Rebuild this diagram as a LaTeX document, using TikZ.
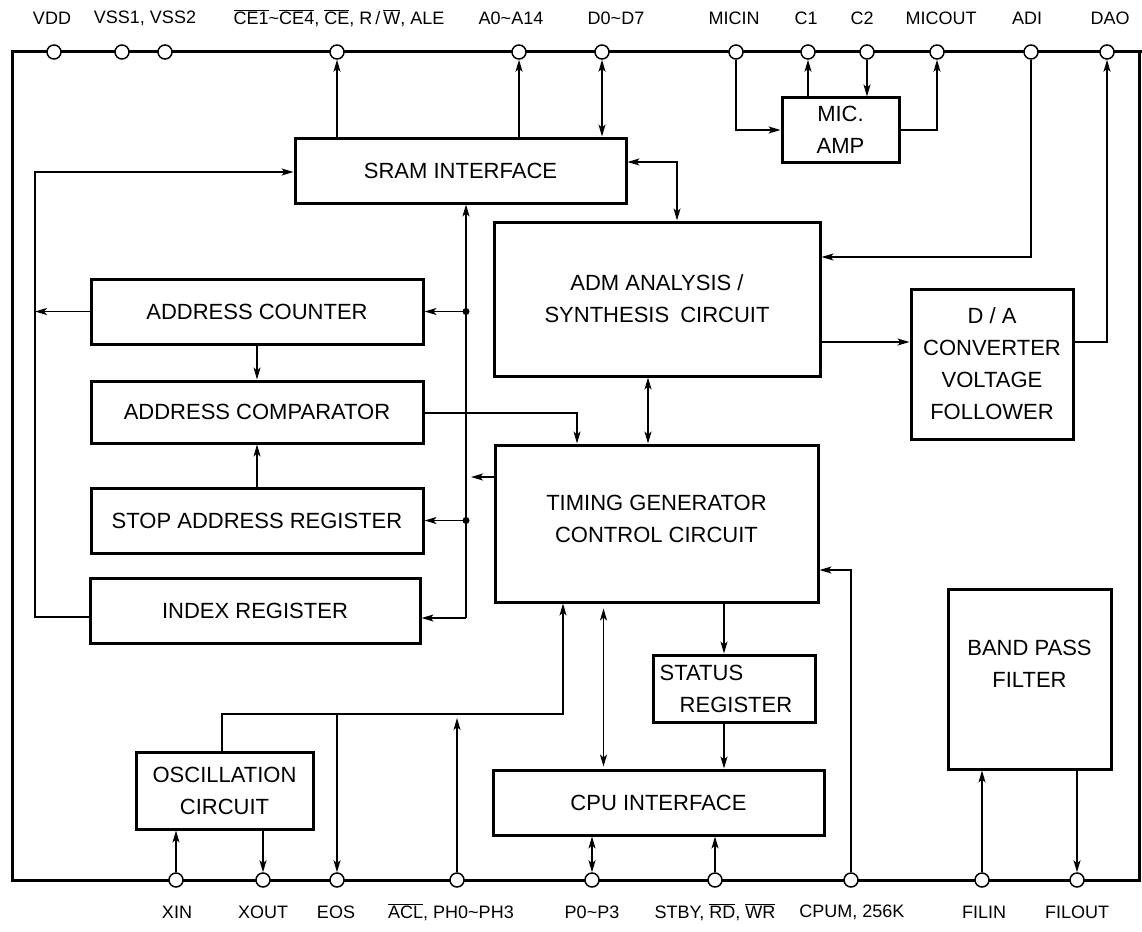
\documentclass[tikz,border=0pt]{standalone}
\usepackage{fontspec}
\setmainfont{Liberation Sans}
\usetikzlibrary{arrows.meta}
\newcommand{\ovl}[1]{$\overline{\hbox{#1}}$}
\tikzset{
  blk/.style={draw, line width=3pt, align=center, inner sep=0pt,
    font=\fontsize{22}{32}\selectfont},
  txt/.style={align=center, inner sep=0pt, font=\fontsize{22}{32}\selectfont},
  term/.style={circle, draw, fill=white, line width=1.5pt, minimum size=14pt, inner sep=0pt},
  lbl/.style={font=\fontsize{18}{20}\selectfont, inner sep=0pt},
  sig/.style={line width=1.6pt},
  arr/.style={sig, -{Stealth[length=12pt,width=7pt,inset=3pt]}},
  dbl/.style={sig, {Stealth[length=12pt,width=7pt,inset=3pt]}-{Stealth[length=12pt,width=7pt,inset=3pt]}},
  frame/.style={line width=3pt}
}
\begin{document}
\begin{tikzpicture}[x=1pt, y=-1pt]
\useasboundingbox (0,0) rectangle (1142,931);
% outer frame
\draw[frame] (12,52) rectangle (1139,880);
\draw[frame] (1139,52) -- (1142,52);

% blocks
\node[blk, minimum width=331pt, minimum height=65pt] (sram) at (460.5,170.5) {SRAM INTERFACE};
\node[blk, minimum width=117pt, minimum height=64pt] (mic) at (840.5,130) {MIC.\\AMP};
\node[blk, minimum width=326pt, minimum height=154pt] (adm) at (657,299) {ADM ANALYSIS /\\SYNTHESIS\enspace CIRCUIT};
\node[blk, minimum width=162pt, minimum height=150pt] (da) at (992,364) {D / A\\CONVERTER\\VOLTAGE\\FOLLOWER};
\node[blk, minimum width=332pt, minimum height=65pt] (ac) at (257,311.5) {ADDRESS COUNTER};
\node[blk, minimum width=332pt, minimum height=62pt] (acmp) at (257,412) {ADDRESS COMPARATOR};
\node[blk, minimum width=332pt, minimum height=65pt] (sar) at (257,520.5) {STOP ADDRESS REGISTER};
\node[blk, minimum width=330pt, minimum height=65pt] (ir) at (255,610.5) {INDEX REGISTER};
\node[blk, minimum width=323pt, minimum height=157pt] (tim) at (656.5,523.5) {};
\node[txt] (timtxt) at ([yshift=5pt]tim.center) {TIMING GENERATOR\\CONTROL CIRCUIT};
\node[blk, minimum width=162pt, minimum height=67pt] (stat) at (734,688.5) {};
\node[txt, align=left, anchor=west] (stattxt) at ([xshift=8pt]stat.west) {STATUS\\\hspace*{20pt}REGISTER};
\node[blk, minimum width=331pt, minimum height=65pt] (cpu) at (658.5,802.5) {CPU INTERFACE};
\node[blk, minimum width=177pt, minimum height=77pt] (osc) at (224.5,790.5) {OSCILLATION\\CIRCUIT};
\node[blk, minimum width=163pt, minimum height=180pt] (bpf) at (1029.5,679) {};
\node[txt] (bpftxt) at ([yshift=15pt]bpf.center) {BAND PASS\\FILTER};

% top terminals
\node[term] (vdd) at (54,52) {};
\node[term] (vss1) at (122,52) {};
\node[term] (vss2) at (165,52) {};
\node[term] (ce) at (337,52) {};
\node[term] (a0) at (519,52) {};
\node[term] (d0) at (602,52) {};
\node[term] (micin) at (736,52) {};
\node[term] (c1) at (808,52) {};
\node[term] (c2) at (867,52) {};
\node[term] (micout) at (937,52) {};
\node[term] (adi) at (1031,52) {};
\node[term] (dao) at (1107,52) {};
% bottom terminals
\node[term] (xin) at (176,880) {};
\node[term] (xout) at (263,880) {};
\node[term] (eos) at (337,880) {};
\node[term] (ph) at (457,880) {};
\node[term] (p0) at (592,880) {};
\node[term] (stby) at (715,880) {};
\node[term] (cpum) at (851,880) {};
\node[term] (filin) at (982,880) {};
\node[term] (filout) at (1077,880) {};

% terminal labels
\node[lbl] (l-vdd) at (52,18) {VDD};
\node[lbl] (l-vss) at (145,18) {VSS1, VSS2};
\node[lbl] (l-ce) at (339,18) {\ovl{CE1}\textasciitilde\ovl{CE4}, \ovl{CE}, R\,/\,\ovl{W}, ALE};
\node[lbl] (l-a0) at (511,18) {A0\textasciitilde A14};
\node[lbl] (l-d0) at (616,18) {D0\textasciitilde D7};
\node[lbl] (l-micin) at (734,18) {MICIN};
\node[lbl] (l-c1) at (806,18) {C1};
\node[lbl] (l-c2) at (862,18) {C2};
\node[lbl] (l-micout) at (941,18) {MICOUT};
\node[lbl] (l-adi) at (1027,18) {ADI};
\node[lbl] (l-dao) at (1110,18) {DAO};
\node[lbl] (l-xin) at (177,912) {XIN};
\node[lbl] (l-xout) at (263,912) {XOUT};
\node[lbl] (l-eos) at (336,912) {EOS};
\node[lbl] (l-ph) at (451,912) {\ovl{ACL}, PH0\textasciitilde PH3};
\node[lbl] (l-p0) at (592,912) {P0\textasciitilde P3};
\node[lbl] (l-stby) at (715,912) {STBY, \ovl{RD}, \ovl{WR}};
\node[lbl] (l-cpum) at (852,912) {CPUM,\ 256K};
\node[lbl] (l-filin) at (984,912) {FILIN};
\node[lbl] (l-filout) at (1077,912) {FILOUT};

% corner points
\coordinate (lb) at (35,172);
\coordinate (irl) at (35,617);
\coordinate (bus) at (466,618);
\coordinate (tb) at (471,477);
\coordinate (cm) at (577,413);
\coordinate (sa) at (677,162);
\coordinate (ad) at (1031,257);
\coordinate (dd) at (1107,342);
\coordinate (ot) at (222,714);
\coordinate (oe) at (563,714);
\coordinate (pt) at (457,718);
\coordinate (cc) at (851,570);

% SRAM side
\draw[arr] (sram.north -| ce) -- (ce);
\draw[arr] (sram.north -| a0) -- (a0);
\draw[dbl] (sram.north -| d0) -- (d0);
\draw[dbl] (sram.east |- sa) -- (sa) -- (adm.north -| sa);
\draw[arr] (ac.west) -- (ac.west -| lb);
\draw[arr] (ir.west |- irl) -- (irl) -- (lb) -- (sram.west |- lb);

% address bus
\draw[arr] (bus) -- (sram.south -| bus);
\draw[arr] (bus) -- (ir.east |- bus);
\draw[arr] (ac.east -| bus) -- (ac.east);
\draw[arr] (sar.east -| bus) -- (sar.east);
\fill (ac.east -| bus) circle (3.5pt);
\fill (sar.east -| bus) circle (3.5pt);
\draw[arr] (tim.west |- tb) -- (tb);
\draw[arr] (ac.south) -- (acmp.north);
\draw[arr] (sar.north) -- (acmp.south);
\draw[arr] (acmp.east |- cm) -- (cm) -- (tim.north -| cm);

% analysis side
\draw[dbl] ([xshift=-9pt]adm.south) -- ([xshift=-9pt]adm.south |- tim.north);
\draw[arr] (adi) -- (ad) -- (adm.east |- ad);
\draw[arr] (adm.east |- dd) -- (da.west |- dd);
\draw[arr] (da.east |- dd) -- (dd) -- (dao);
\draw[arr] (micin) -- (micin |- mic.west) -- (mic.west);
\draw[arr] (mic.north -| c1) -- (c1);
\draw[arr] (c2) -- (mic.north -| c2);
\draw[arr] (mic.east) -- (mic.east -| micout) -- (micout);

% control side
\draw[arr] ([xshift=-10pt]tim.south -| stat.north) -- ([xshift=-10pt]stat.north);
\draw[arr] ([xshift=-10pt]stat.south) -- ([xshift=-10pt]stat.south |- cpu.north);
\draw[dbl, shorten <=5pt, shorten >=2pt] ([xshift=-53pt]tim.south) -- ([xshift=-53pt]tim.south |- cpu.north);
\draw[dbl] (p0) -- (cpu.south -| p0);
\draw[arr] (stby) -- (cpu.south -| stby);
\draw[arr] (cpum) -- (cc) -- (tim.east |- cc);
\draw[arr] (osc.north -| ot) -- (ot) -- (oe) -- (tim.south -| oe);
\draw[arr] (eos |- ot) -- (eos);
\draw[arr] (ph) -- (pt);
\draw[arr] (xin) -- (osc.south -| xin);
\draw[arr] (osc.south -| xout) -- (xout);
\draw[arr] (filin) -- (bpf.south -| filin);
\draw[arr] (bpf.south -| filout) -- (filout);
\end{tikzpicture}
\end{document}
